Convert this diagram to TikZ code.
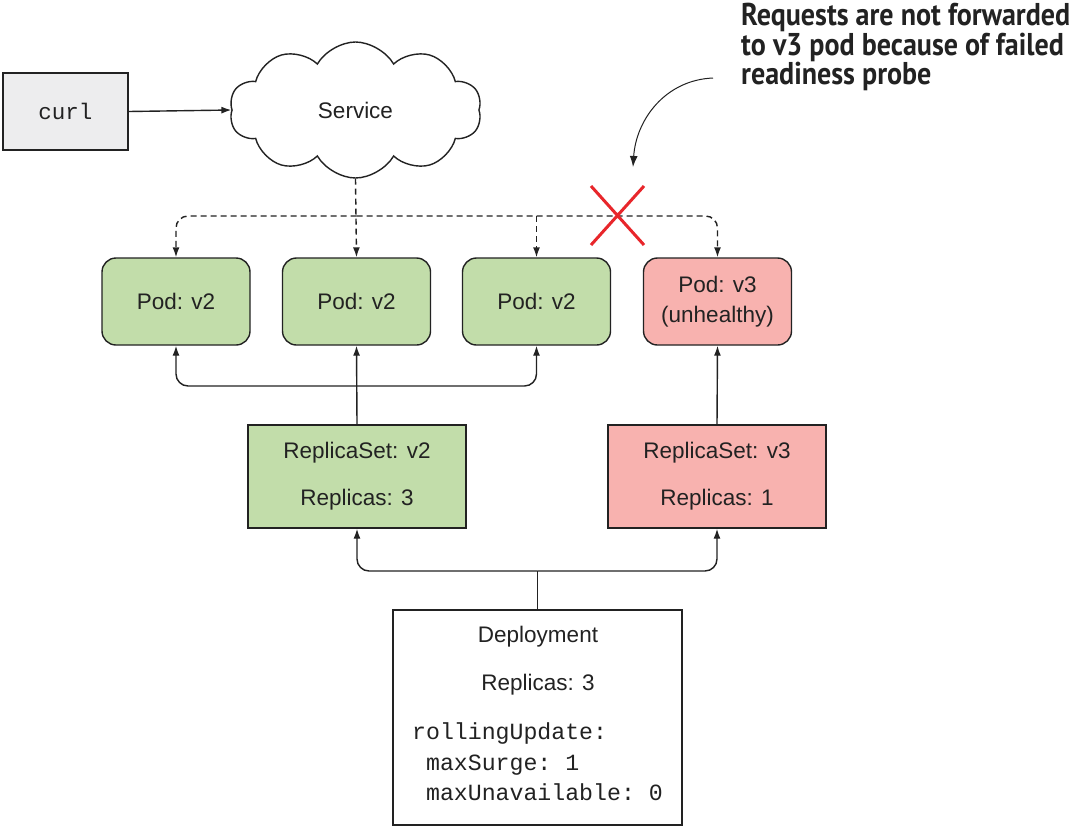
\documentclass[tikz,border=0pt]{standalone}
\usepackage{fontspec}
\setmainfont{Liberation Sans}
\setmonofont{Liberation Mono}
\newfontfamily\notefont[FakeStretch=0.89]{PT Sans}
\usetikzlibrary{shapes.symbols,arrows.meta,calc}
\definecolor{podgreen}{HTML}{C2DDAA}
\definecolor{podred}{HTML}{F8B2AF}
\definecolor{curlgray}{HTML}{EDEDEE}
\definecolor{ink}{HTML}{222222}
\definecolor{xred}{HTML}{E8262B}
\begin{document}
\begin{tikzpicture}[x=1pt,y=-1pt,
  every node/.style={font=\fontsize{22.5}{26}\selectfont, text=ink},
  box/.style={draw=ink, line width=1.4pt, inner sep=0pt},
  podbox/.style={box, rounded corners=14pt, minimum width=148pt, minimum height=87pt, fill=podgreen, align=center},
  rsbox/.style={box, minimum width=218pt, minimum height=103pt, fill=podgreen, align=center},
  arr/.style={draw=ink, line width=1.4pt, -{Latex[length=10pt,width=7pt]}},
  dasharr/.style={arr, dash pattern=on 6pt off 4pt},
  rc/.style={rounded corners=12pt}]
\path[use as bounding box, fill=white] (0,0) rectangle (1070,828);

% curl and service
\node[box, fill=curlgray, minimum width=125pt, minimum height=77pt] (curl) at (65.5,111.5) {\ttfamily curl};
\node[cloud, draw=ink, line width=1.4pt, fill=white, cloud puffs=10, cloud puff arc=120, aspect=1.84,
      minimum width=252pt, minimum height=136pt, inner sep=0pt] (svc) at (355.5,110) {Service};
\draw[arr] (curl.east) -- (svc.west);

% pods
\node[podbox] (pod1) at (176,301.5) {Pod: v2};
\node[podbox] (pod2) at (356.5,301.5) {Pod: v2};
\node[podbox] (pod3) at (536.5,301.5) {Pod: v2};
\node[podbox, fill=podred] (pod4) at (717.5,301.5) {Pod: v3\\[4pt](unhealthy)};

% dashed distribution
\coordinate (d1) at (356.5,216);
\draw[dasharr] (svc.south) -- (pod2.north);
\draw[dasharr, rc] (d1) -| (pod1.north);
\draw[dasharr, rc] (d1) -| (pod4.north);
\draw[dasharr] (d1 -| pod3.north) -- (pod3.north);

% red cross
\coordinate (xc) at (617.5,215.5);
\draw[xred, line width=3pt] ($(xc)+(-26.5,-29.5)$) -- ($(xc)+(26.5,29.5)$)
  ($(xc)+(26.5,-29.5)$) -- ($(xc)+(-26.5,29.5)$);

% annotation
\node[anchor=north west, align=left, inner sep=0pt, font=\notefont\bfseries\fontsize{31.5}{28.2}\selectfont, text=ink] (note) at (741,3)
  {Requests are not forwarded\\to v3 pod because of failed\\readiness probe};
\coordinate (ns) at (713,78);
\coordinate (ne) at (633,167);
\draw[arr, line width=1pt, -{Latex[length=11pt,width=8pt]}] (ns) .. controls (665,80) and (636,120) .. (ne);

% replica sets
\node[rsbox] (rs2) at (357,476.5) {ReplicaSet: v2\\[21pt]Replicas: 3};
\node[rsbox, fill=podred] (rs3) at (717,476.5) {ReplicaSet: v3\\[21pt]Replicas: 1};
\coordinate (j1) at (356.5,386);
\draw[arr] (rs2.north) -- (pod2.south);
\draw[arr, rc] (j1) -| (pod1.south);
\draw[arr, rc] (j1) -| (pod3.south);
\draw[arr] (rs3.north) -- (pod4.south);

% deployment
\node[box, minimum width=289pt, minimum height=215pt] (dep) at (537.5,717.5) {};
\node (dept) at (538,637) {Deployment};
\node (depr) at (538,685) {Replicas: 3};
\node[anchor=west, align=left, inner sep=0pt, font=\ttfamily\fontsize{23.2}{30.5}\selectfont] (depc) at (412,762)
  {rollingUpdate:\\\ maxSurge: 1\\\ maxUnavailable: 0};
\coordinate (j2) at (537.5,571);
\draw[draw=ink, line width=1.4pt] (dep.north) -- (j2);
\draw[arr, rc] (j2) -| (rs2.south);
\draw[arr, rc] (j2) -| (rs3.south);
\end{tikzpicture}
\end{document}
